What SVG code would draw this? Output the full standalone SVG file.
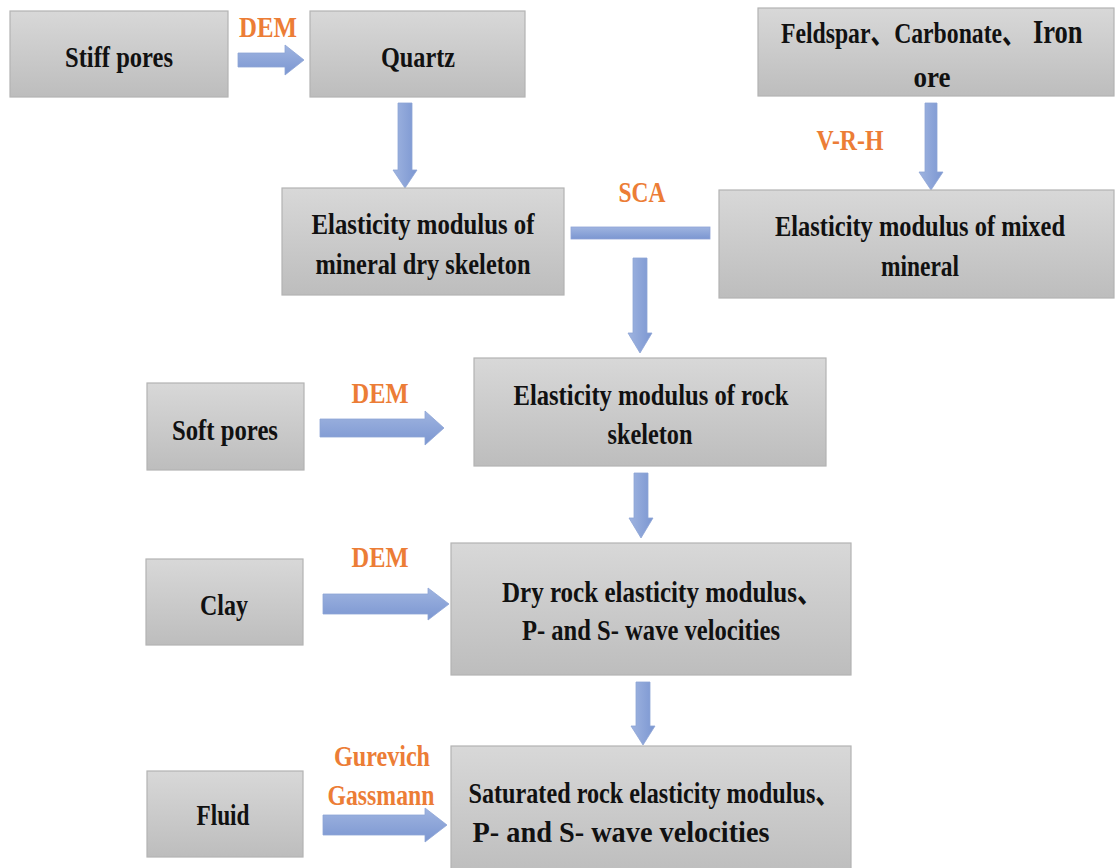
<svg xmlns="http://www.w3.org/2000/svg" width="1115" height="868" viewBox="0 0 1115 868">
<defs>
<linearGradient id="boxg" x1="0" y1="0" x2="0" y2="1">
<stop offset="0" stop-color="#d8d8d8"/>
<stop offset="1" stop-color="#bdbdbd"/>
</linearGradient>
<linearGradient id="arrv" x1="0" y1="0" x2="1" y2="0">
<stop offset="0" stop-color="#9fb4e0"/>
<stop offset="1" stop-color="#7b96d1"/>
</linearGradient>
<linearGradient id="arrh" x1="0" y1="0" x2="0" y2="1">
<stop offset="0" stop-color="#9fb4e0"/>
<stop offset="1" stop-color="#7b96d1"/>
</linearGradient>
</defs>
<style>
.box{fill:url(#boxg);stroke:#b3b3b3;stroke-width:1.2}
.t{font-family:"Liberation Serif","Noto Sans CJK SC",serif;font-weight:bold;font-size:30px;fill:#111;text-anchor:middle}
.o{font-family:"Liberation Serif",serif;font-weight:bold;font-size:30px;fill:#ec7d36;text-anchor:middle}
.av{fill:url(#arrv);stroke:#8ea4d6;stroke-width:0.8}
.ah{fill:url(#arrh);stroke:#8ea4d6;stroke-width:0.8}
</style>
<rect width="1115" height="868" fill="#ffffff"/>

<g id="connectors">
<polygon class="ah" points="238,53 285,53 285,45 304,60 285,75 285,67 238,67"/>
<polygon class="av" points="398,103 412,103 412,170 417,170 405,188 393,170 398,170"/>
<polygon class="av" points="925,103 937,103 937,172 943,172 931,190 919,172 925,172"/>
<rect class="ah" x="571" y="227" width="139" height="12"/>
<polygon class="av" points="633,258 647,258 647,333 652,333 640,353 628,333 633,333"/>
<polygon class="ah" points="320,419 425,419 425,411 444,428 425,445 425,437 320,437"/>
<polygon class="ah" points="323,594 428,594 428,588 449,604 428,620 428,614 323,614"/>
<polygon class="ah" points="323,815 425,815 425,808 447,825 425,842 425,835 323,835"/>
<polygon class="av" points="634,473 648,473 648,518 653,518 641,538 629,518 634,518"/>
<polygon class="av" points="636,682 650,682 650,726 655,726 643,745 631,726 636,726"/>
<text class="o" x="268" y="37" textLength="58" lengthAdjust="spacingAndGlyphs">DEM</text>
<text class="o" x="850" y="150" textLength="67" lengthAdjust="spacingAndGlyphs">V-R-H</text>
<text class="o" x="642" y="202" textLength="47" lengthAdjust="spacingAndGlyphs">SCA</text>
<text class="o" x="380" y="403" textLength="57" lengthAdjust="spacingAndGlyphs">DEM</text>
<text class="o" x="380" y="567" textLength="57" lengthAdjust="spacingAndGlyphs">DEM</text>
<text class="o" x="382" y="766" textLength="96" lengthAdjust="spacingAndGlyphs">Gurevich</text>
<text class="o" x="381" y="805" textLength="107" lengthAdjust="spacingAndGlyphs">Gassmann</text>
</g>

<g id="stiff-pores">
<rect class="box" x="10" y="11" width="218" height="86"/>
<text class="t" x="119" y="67" textLength="108" lengthAdjust="spacingAndGlyphs">Stiff pores</text>
</g>
<g id="quartz">
<rect class="box" x="310" y="11" width="215" height="86"/>
<text class="t" x="418" y="67" textLength="74" lengthAdjust="spacingAndGlyphs">Quartz</text>
</g>
<g id="feldspar">
<rect class="box" x="758" y="8" width="356" height="88"/>
<text class="t" transform="translate(781,43) scale(0.79,1)" x="0" y="0" style="text-anchor:start">Feldspar、Carbonate、</text>
<text class="t" transform="translate(1033,43) scale(0.78,1)" x="0" y="0" style="text-anchor:start;font-size:34px">Iron</text>
<text class="t" x="932" y="87" textLength="37" lengthAdjust="spacingAndGlyphs">ore</text>
</g>
<g id="dry-skeleton">
<rect class="box" x="282" y="188" width="282" height="107"/>
<text class="t" x="423" y="234" textLength="223" lengthAdjust="spacingAndGlyphs">Elasticity modulus of</text>
<text class="t" x="423" y="274" textLength="215" lengthAdjust="spacingAndGlyphs">mineral dry skeleton</text>
</g>
<g id="mixed-mineral">
<rect class="box" x="719" y="190" width="395" height="108"/>
<text class="t" transform="translate(920,236) scale(0.815,1)" x="0" y="0">Elasticity modulus of mixed</text>
<text class="t" x="920" y="276" textLength="78" lengthAdjust="spacingAndGlyphs">mineral</text>
</g>
<g id="rock-skeleton">
<rect class="box" x="474" y="358" width="352" height="108"/>
<text class="t" x="651" y="405" textLength="275" lengthAdjust="spacingAndGlyphs">Elasticity modulus of rock</text>
<text class="t" x="650" y="444" textLength="85" lengthAdjust="spacingAndGlyphs">skeleton</text>
</g>
<g id="soft-pores">
<rect class="box" x="147" y="383" width="157" height="87"/>
<text class="t" x="225" y="440" textLength="106" lengthAdjust="spacingAndGlyphs">Soft pores</text>
</g>
<g id="clay">
<rect class="box" x="146" y="559" width="157" height="86"/>
<text class="t" x="224" y="615" textLength="48" lengthAdjust="spacingAndGlyphs">Clay</text>
</g>
<g id="dry-rock">
<rect class="box" x="451" y="543" width="400" height="132"/>
<text class="t" x="662" y="602" textLength="320" lengthAdjust="spacingAndGlyphs">Dry rock elasticity modulus、</text>
<text class="t" x="651" y="640" textLength="258" lengthAdjust="spacingAndGlyphs">P- and S- wave velocities</text>
</g>
<g id="fluid">
<rect class="box" x="147" y="771" width="156" height="86"/>
<text class="t" x="223" y="825" textLength="53" lengthAdjust="spacingAndGlyphs">Fluid</text>
</g>
<g id="saturated-rock">
<rect class="box" x="451" y="746" width="400" height="130"/>
<text class="t" x="654" y="803" textLength="371" lengthAdjust="spacingAndGlyphs">Saturated rock elasticity modulus、</text>
<text class="t" x="621" y="842" textLength="297" lengthAdjust="spacingAndGlyphs">P- and S- wave velocities</text>
</g>
</svg>
